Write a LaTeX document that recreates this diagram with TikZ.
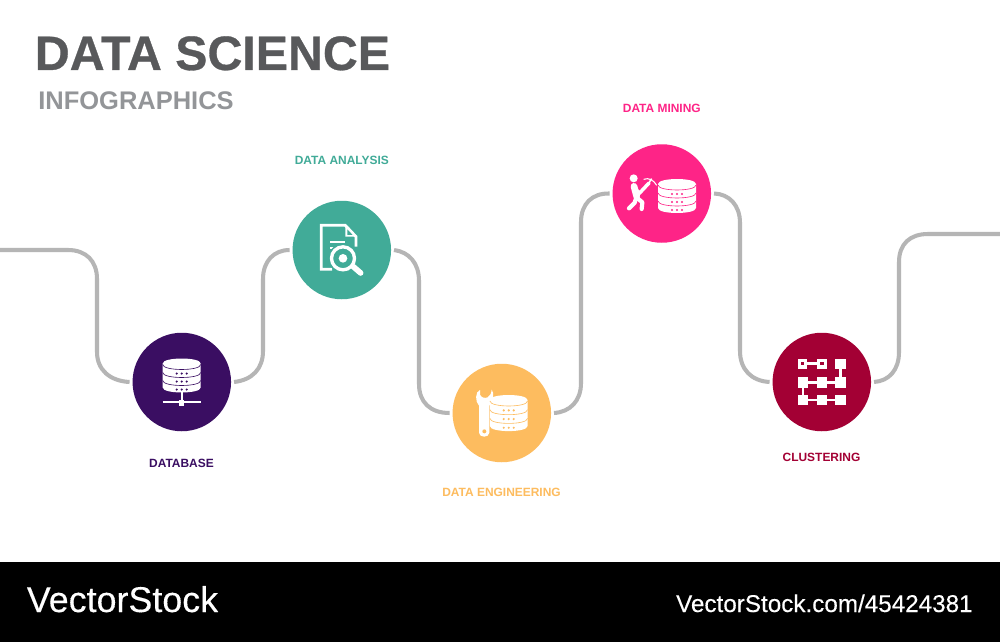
\documentclass[tikz,border=0pt]{standalone}
\usepackage{fontspec}
\setmainfont{Liberation Sans}
\newfontfamily\logofont[FakeBold=0.25]{Liberation Sans}
\newfontfamily\titlefont[FakeBold=0.6,Scale=1,BoldFont={Liberation Sans Bold}]{Liberation Sans Bold}
\definecolor{cpurple}{HTML}{3A0E62}
\definecolor{cteal}{HTML}{41AB98}
\definecolor{corange}{HTML}{FDBC5F}
\definecolor{cpink}{HTML}{FE2487}
\definecolor{ccrim}{HTML}{A30034}
\definecolor{ctitle}{HTML}{58595B}
\definecolor{csub}{HTML}{939598}
\definecolor{cline}{HTML}{B5B5B5}
\newcommand{\pxf}[1]{\fontsize{#1}{#1}\selectfont}
% database icon: cx, y of top ellipse centre, rx, ry, section height, background
\newcommand{\dbicon}[6]{%
  \fill[white] (#1-#3,#2) -- (#1-#3,#2+3*#5)
    .. controls (#1-#3,#2+3*#5+#4*1.33) and (#1+#3,#2+3*#5+#4*1.33) .. (#1+#3,#2+3*#5)
    -- (#1+#3,#2)
    .. controls (#1+#3,#2-#4*1.33) and (#1-#3,#2-#4*1.33) .. (#1-#3,#2) -- cycle;
  \foreach \i in {0,1,2}{%
    \draw[#6,line width=0.35pt] (#1-#3,#2+\i*#5+1)
      .. controls (#1-#3,#2+\i*#5+1+#4*1.33) and (#1+#3,#2+\i*#5+1+#4*1.33) .. (#1+#3,#2+\i*#5+1);
    \foreach \d in {-5,0,5}{%
      \fill[#6] (#1+\d,#2+\i*#5+#4+#5/2+1) circle[radius=1.2];
    }%
  }%
}
\tikzset{
  x=0.02cm,y=-0.02cm,
  stage/.style={circle,minimum size=0.02cm*98.5,inner sep=0pt,outer sep=1.7pt},
  wire/.style={draw=cline,line width=2.3pt,line cap=butt},
  lab/.style={font=\bfseries\pxf{6.8pt},inner sep=0pt,anchor=center},
}
\begin{document}
\begin{tikzpicture}
\useasboundingbox (0,0) rectangle (1000,642);
\fill[white] (0,0) rectangle (1000,642);
\fill[black] (0,562) rectangle (1000,642);
% stages
\node[stage,fill=cpurple] (c1) at (181.8,382) {};
\node[stage,fill=cteal] (c2) at (341.8,250) {};
\node[stage,fill=corange] (c3) at (501.8,413) {};
\node[stage,fill=cpink] (c4) at (661.8,193.5) {};
\node[stage,fill=ccrim] (c5) at (821.8,382) {};
\coordinate (startL) at (0,250);
\coordinate (endR) at (1000,234);
% connectors
\draw[wire] (startL) -- (68,250) .. controls (86,250) and (97,261) .. (97,279) -- (97,352)
  .. controls (97,370) and (110,381) .. (c1.west);
\draw[wire] (c1.east) .. controls (252,380) and (263,369) .. (263,351) -- (263,279)
  .. controls (263,261) and (274,250) .. (c2.west);
\draw[wire] (c2.east) .. controls (409,252) and (419,263) .. (419,281) -- (419,384)
  .. controls (419,402) and (430,413) .. (c3.west);
\draw[wire] (c3.east) .. controls (570,412) and (581,401) .. (581,383) -- (581,222)
  .. controls (581,204) and (592,193) .. (c4.west);
\draw[wire] (c4.east) .. controls (729,194) and (740,205) .. (740,223) -- (740,351)
  .. controls (740,369) and (751,381) .. (c5.west);
\draw[wire] (c5.east) .. controls (889,381) and (899,370) .. (899,352) -- (899,262)
  .. controls (899,244) and (910,234) .. (928,234) -- (endR);
% icon 1: database
\dbicon{181.7}{363.5}{19}{5}{8}{cpurple}
\draw[white,line width=1pt] (162.7,402.3) -- (201,402.3);
\draw[white,line width=1pt] (181.7,391) -- (181.7,402);
\fill[white] (178.8,399.8) rectangle (184.2,405.6);
% icon 2: document and lens
\begin{scope}[shift={(282,190)},x=0.00667cm,y=-0.00667cm]
  \draw[white,line width=1.6pt,line join=miter] (150,238) -- (118,238) -- (118,106) -- (190,106) -- (222,140) -- (222,170);
  \fill[white] (190,106) -- (222,140) -- (190,140) -- cycle;
  \fill[cteal] (196,118) -- (212,135) -- (196,135) -- cycle;
  \draw[white,line width=1pt] (145,157) -- (188,157);
  \draw[white,line width=1pt] (145,173) -- (163,173);
  \fill[cteal] (183,205) circle[radius=44];
  \draw[white,line width=1.9pt] (183,205) circle[radius=34.5];
  \fill[white] (183,205) circle[radius=13];
  \draw[white,line width=3.2pt,line cap=round] (214,230) -- (236,249);
\end{scope}
% icon 3: wrench and database
\begin{scope}[shift={(442,354)},x=0.00667cm,y=-0.00667cm]
  \fill[white] (114,108) .. controls (100,112) and (98,142) .. (111,155) -- (111,236)
    .. controls (111,252) and (142,252) .. (142,236) -- (142,155)
    .. controls (156,142) and (157,116) .. (149,107) .. controls (148,118) and (144,126) .. (137,130)
    .. controls (128,134) and (117,130) .. (114,122) -- cycle;
  \fill[corange] (127,232) circle[radius=6];
\end{scope}
\dbicon{508.7}{400}{18.8}{5}{8.7}{corange}
% icon 4: miner and database
\dbicon{677}{184}{19}{5}{8}{cpink}
\begin{scope}[shift={(602,134)},x=0.00667cm,y=-0.00667cm]
  \fill[white] (95,133) circle[radius=12];
  \draw[white,line width=3.8pt,line cap=round,line join=round] (96,157) -- (104,187);
  \draw[white,line width=2.4pt,line cap=round,line join=round] (103,190) -- (98,206) -- (81,223);
  \draw[white,line width=2.4pt,line cap=round,line join=round] (103,190) -- (121,205) -- (119,225);
  \draw[white,line width=2pt,line cap=round,line join=round] (93,155) -- (112,178) -- (141,147);
  \draw[white,line width=0.6pt] (125,136) .. controls (140,130) and (155,138) .. (164,154);
  \draw[white,line width=0.9pt] (139,149) -- (149,134);
\end{scope}
% icon 5: clusters
\begin{scope}[shift={(762,322)},x=0.00667cm,y=-0.00667cm]
  \draw[white,line width=1.4pt] (135,125) -- (165,125);
  \draw[white,line width=1.4pt] (236,140) -- (236,165);
  \draw[white,line width=1.4pt] (138,181) -- (220,181);
  \draw[white,line width=1.4pt] (123,197) -- (123,218);
  \draw[white,line width=1.4pt] (138,234) -- (220,234);
  \draw[white,line width=1.8pt] (111.5,116) rectangle (131.5,135);
  \draw[white,line width=1.8pt] (169.5,116) rectangle (189.5,135);
  \fill[white] (220,110) rectangle (252,141);
  \fill[white] (107,165) rectangle (138,197);
  \fill[white] (164,165) rectangle (195,197);
  \fill[white] (220,165) rectangle (252,197);
  \fill[white] (107,218) rectangle (138,250);
  \fill[white] (164,218) rectangle (195,250);
  \fill[white] (220,218) rectangle (252,250);
\end{scope}
% texts
\node[inner sep=0pt,anchor=base west,text=ctitle,font=\titlefont\pxf{27.5pt}] (title) at (34.5,70) {DATA SCIENCE};
\node[inner sep=0pt,anchor=base west,text=csub,font=\bfseries\pxf{14.5pt}] (sub) at (38,109.5) {INFOGRAPHICS};
\node[lab,text=cpurple] (l1) at (181.5,463) {DATABASE};
\node[lab,text=cteal] (l2) at (341.8,160) {DATA ANALYSIS};
\node[lab,text=corange] (l3) at (501.5,492) {DATA ENGINEERING};
\node[lab,text=cpink] (l4) at (661.8,108.5) {DATA MINING};
\node[lab,text=ccrim] (l5) at (821.5,457) {CLUSTERING};
\node[inner sep=0pt,anchor=base west,text=white,font=\logofont\pxf{20.4pt}] (vs) at (26.5,612) {VectorStock};
\node[inner sep=0pt,anchor=base east,text=white,font=\logofont\pxf{13.8pt}] (vsurl) at (973,612) {VectorStock.com/45424381};
\end{tikzpicture}
\end{document}
